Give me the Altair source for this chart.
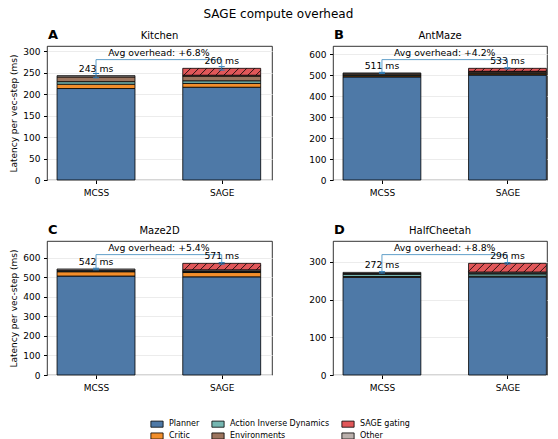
import altair as alt
import pandas as pd

panels = ["Kitchen", "AntMaze", "Maze2D", "HalfCheetah"]
letters = ["A", "B", "C", "D"]
methods = ["MCSS", "SAGE"]
components = ["Planner", "Critic", "Action Inverse Dynamics", "Environments", "Other", "SAGE gating"]
legend_order = ["Planner", "Action Inverse Dynamics", "SAGE gating", "Critic", "Environments", "Other"]
legend_colors = ["#4e79a7", "#76b7b2", "#e15759", "#f28e2b", "#9c755f", "#bab0ac"]

# values per (panel, method): Kitchen MCSS, Kitchen SAGE, AntMaze MCSS, ...
planner = [213, 216, 492, 501, 506, 502, 259, 260]
critic = [10, 9, 5, 5, 22, 22, 2, 2]
aid = [6, 6, 4, 4, 4, 4, 6, 6]
env = [11, 11, 6, 6, 4, 4, 2, 2]
other = [3, 2, 4, 3, 6, 6, 3, 3]
gating = [0, 16, 0, 14, 0, 33, 0, 23]
err_ms = [5, 4, 3, 3, 4, 4, 2, 2]
overhead_pct = [6.8, 4.2, 5.4, 8.8]
y_ticks = [[0, 50, 100, 150, 200, 250, 300], [0, 100, 200, 300, 400, 500, 600],
           [0, 100, 200, 300, 400, 500, 600], [0, 100, 200, 300]]

comp_values = [planner, critic, aid, env, other, gating]

H = 134
HALF = 0.31
BLUE_ERR = "#2c7bb6"
BLUE_BR = "#62a0ca"


def panel(i):
    left_col = (i % 2 == 0)
    W = 225 if left_col else 214
    xdom = [-0.39, 1.40] if left_col else [-0.39, 1.315]
    seg_rows, totals = [], []
    for m in range(2):
        k = 2 * i + m
        base = 0.0
        for c, vals in zip(components, comp_values):
            v = vals[k]
            if v > 0:
                seg_rows.append({"x0": m - HALF, "x1": m + HALF, "y0": base, "y1": base + v, "component": c})
            base += v
        totals.append(base)
    ymax = 1.2 * max(totals)
    pxx = W / (xdom[1] - xdom[0])
    pxy = H / ymax

    X = alt.X("x0:Q", scale=alt.Scale(domain=xdom, nice=False, zero=False),
              axis=alt.Axis(values=[0, 1], labelExpr="datum.value == 0 ? 'MCSS' : 'SAGE'",
                            grid=False, domain=False, tickSize=3.5, tickColor="black",
                            labelFontSize=9, labelColor="black", labelPadding=5, title=None))
    Y = alt.Y("y0:Q", scale=alt.Scale(domain=[0, ymax], nice=False, zero=True),
              axis=alt.Axis(values=y_ticks[i], grid=True, gridColor="#ececec", domain=False,
                            tickSize=3.5, tickColor="black", labelFontSize=9, labelColor="black",
                            labelPadding=3.5,
                            title="Latency per vec-step (ms)" if left_col else None,
                            titleFontSize=9, titleFontWeight="normal", titleColor="black",
                            titlePadding=4))

    seg = pd.DataFrame(seg_rows)
    bars = alt.Chart(seg).mark_rect(stroke="black", strokeWidth=0.8).encode(
        x=X, x2="x1:Q", y=Y, y2="y1:Q",
        color=alt.Color("component:N", scale=alt.Scale(domain=legend_order, range=legend_colors),
                        legend=alt.Legend(title=None, orient="none", legendX=103, legendY=371,
                                          columns=3, direction="horizontal",
                                          symbolType="M-1,-0.5H1V0.5H-1Z", symbolSize=150,
                                          symbolStrokeColor="black", symbolStrokeWidth=0.8,
                                          symbolOpacity=1, labelFontSize=8, labelColor="black",
                                          labelOffset=5, rowPadding=0, columnPadding=10)))

    # hatch for SAGE gating segments ("//")
    hatch = []
    for r in seg_rows:
        if r["component"] != "SAGE gating":
            continue
        wpx = (r["x1"] - r["x0"]) * pxx
        hpx = (r["y1"] - r["y0"]) * pxy
        s = -hpx
        while s < wpx:
            t0 = max(0.0, -s)
            t1 = min(hpx, wpx - s)
            if t1 > t0:
                hatch.append({"x0": r["x0"] + (s + t0) / pxx, "x1": r["x0"] + (s + t1) / pxx,
                              "y0": r["y0"] + t0 / pxy, "y1": r["y0"] + t1 / pxy})
            s += 8.0
    layers = [bars]
    if hatch:
        layers.append(alt.Chart(pd.DataFrame(hatch)).mark_rule(color="black", strokeWidth=0.8).encode(
            x=X, x2="x1:Q", y=Y, y2="y1:Q"))

    errs = [err_ms[2 * i], err_ms[2 * i + 1]]
    err_df = pd.DataFrame({"x0": [0, 1], "x1": [0, 1],
                           "y0": [totals[0] - errs[0], totals[1] - errs[1]],
                           "y1": [totals[0] + errs[0], totals[1] + errs[1]]})
    cap_rows = []
    for m in range(2):
        for yy in (totals[m] - errs[m], totals[m] + errs[m]):
            cap_rows.append({"x0": m - 3 / pxx, "x1": m + 3 / pxx, "y0": yy, "y1": yy})
    layers.append(alt.Chart(err_df).mark_rule(color=BLUE_ERR, strokeWidth=1).encode(
        x=X, x2="x1:Q", y=Y, y2="y1:Q"))
    layers.append(alt.Chart(pd.DataFrame(cap_rows)).mark_rule(color=BLUE_ERR, strokeWidth=1).encode(
        x=X, x2="x1:Q", y=Y, y2="y1:Q"))

    by = 1.078 * max(totals)
    br = pd.DataFrame({"x0": [0, 0, 1], "x1": [0, 1, 1],
                       "y0": [totals[0] + errs[0], by, totals[1] + errs[1]],
                       "y1": [by, by, by]})
    layers.append(alt.Chart(br).mark_rule(color=BLUE_BR, strokeWidth=1).encode(
        x=X, x2="x1:Q", y=Y, y2="y1:Q"))

    ov = pd.DataFrame({"x0": [0.5], "y0": [by], "t": [f"Avg overhead: +{overhead_pct[i]}%"]})
    layers.append(alt.Chart(ov).mark_text(fontSize=9.3, baseline="bottom", dy=-1.5, color="black").encode(
        x=X, y=Y, text="t:N"))
    lab = pd.DataFrame({"x0": [0, 1], "y0": totals, "t": [f"{int(round(t))} ms" for t in totals]})
    layers.append(alt.Chart(lab).mark_text(fontSize=9.3, baseline="bottom", dy=-2, color="black").encode(
        x=X, y=Y, text="t:N"))
    let = pd.DataFrame({"t": [letters[i]]})
    layers.append(alt.Chart(let).mark_text(fontSize=13, fontWeight="bold", align="left",
                                           baseline="alphabetic", color="black").encode(
        x=alt.value(1), y=alt.value(-7.5), text="t:N"))
    ttl = pd.DataFrame({"t": [panels[i]]})
    layers.append(alt.Chart(ttl).mark_text(fontSize=10, align="center",
                                           baseline="alphabetic", color="black").encode(
        x=alt.value(W / 2), y=alt.value(-7.5), text="t:N"))

    return alt.layer(*layers).properties(width=W, height=H)


row1 = alt.hconcat(panel(0), panel(1), spacing=35)
row2 = alt.hconcat(panel(2), panel(3), spacing=35)
chart = alt.vconcat(row1, row2, spacing=25).properties(
    title=alt.TitleParams("SAGE compute overhead", fontSize=12, fontWeight="normal",
                          anchor="middle", color="black", offset=7),
    padding={"left": 1, "top": 0, "right": 0, "bottom": 0},
).configure(font="DejaVu Sans").configure_view(stroke="black", strokeWidth=0.8)

chart.save("out.html", embed_options={"renderer": "svg", "actions": False})
